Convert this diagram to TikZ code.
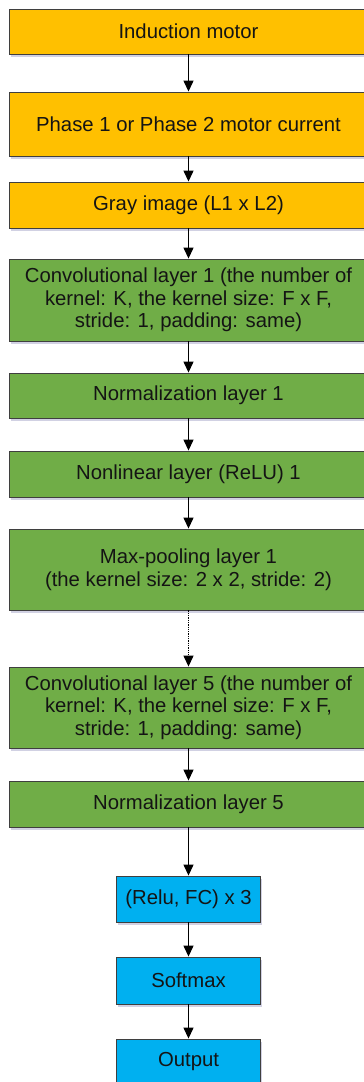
\documentclass[tikz,border=0pt]{standalone}
\usepackage{fontspec}
\setmainfont{Liberation Sans}
\usetikzlibrary{arrows.meta,shadows}
\definecolor{boxorange}{HTML}{FFC000}
\definecolor{boxgreen}{HTML}{70AD47}
\definecolor{boxblue}{HTML}{00B0F0}
\definecolor{edgegray}{HTML}{3F3F3F}
\definecolor{txt}{HTML}{141414}
\tikzset{
  layer/.style={draw=edgegray, line width=0.9pt, inner sep=0pt, align=center,
    text=txt, font=\fontsize{20.3}{22.5}\selectfont,
    drop shadow={shadow xshift=1.5pt, shadow yshift=-2.5pt, opacity=0.18, fill=black!60!blue}},
  widebox/.style={layer, minimum width=359pt},
  narrowbox/.style={layer, minimum width=144pt},
  inbox/.style={widebox, fill=boxorange},
  convbox/.style={widebox, fill=boxgreen},
  headbox/.style={narrowbox, fill=boxblue},
  flow/.style={draw=black, line width=1.3pt, -{Triangle[width=10pt,length=11pt]}},
  skipflow/.style={flow, densely dotted}
}
\begin{document}
\begin{tikzpicture}[x=1pt,y=1pt]
\useasboundingbox (0,0) rectangle (364,-1082);
\clip (0,0) rectangle (364,-1082);
\fill[white] (0,0) rectangle (364,-1082);

% input stage
\node[inbox, minimum height=45pt] (motor) at (188.5,-31.5) {Induction motor};
\node[inbox, minimum height=64pt] (current) at (188.5,-124) {Phase 1 or Phase 2 motor current};
\node[inbox, minimum height=46pt] (gray) at (188.5,-205) {Gray image (L1 x L2)};

% first convolutional block
\node[convbox, minimum height=82pt] (conv1) at (188.5,-300)
  {Convolutional layer 1 (the number of\\kernel: K, the kernel size: F x F,\\stride: 1, padding: same)};
\node[convbox, minimum height=45pt] (norm1) at (188.5,-395.5) {Normalization layer 1};
\node[convbox, minimum height=46pt] (relu1) at (188.5,-474) {Nonlinear layer (ReLU) 1};
\node[convbox, minimum height=81pt] (pool1) at (188.5,-569.5)
  {Max-pooling layer 1\\(the kernel size: 2 x 2, stride: 2)};

% last convolutional block
\node[convbox, minimum height=81pt] (conv5) at (188.5,-707.5)
  {Convolutional layer 5 (the number of\\kernel: K, the kernel size: F x F,\\stride: 1, padding: same)};
\node[convbox, minimum height=46pt] (norm5) at (188.5,-804) {Normalization layer 5};

% classifier head
\node[headbox, minimum height=46pt] (fc) at (188.5,-899) {(Relu, FC) x 3};
\node[headbox, minimum height=47pt] (soft) at (188.5,-980.5) {Softmax};
\node[headbox, minimum height=46pt] (out) at (188.5,-1062) {Output};

% connectors
\draw[flow] (motor) -- (current);
\draw[flow] (current) -- (gray);
\draw[flow] (gray) -- (conv1);
\draw[flow] (conv1) -- (norm1);
\draw[flow] (norm1) -- (relu1);
\draw[flow] (relu1) -- (pool1);
\draw[skipflow] (pool1) -- (conv5);
\draw[flow] (conv5) -- (norm5);
\draw[flow] (norm5) -- (fc);
\draw[flow] (fc) -- (soft);
\draw[flow] (soft) -- (out);
\end{tikzpicture}
\end{document}
